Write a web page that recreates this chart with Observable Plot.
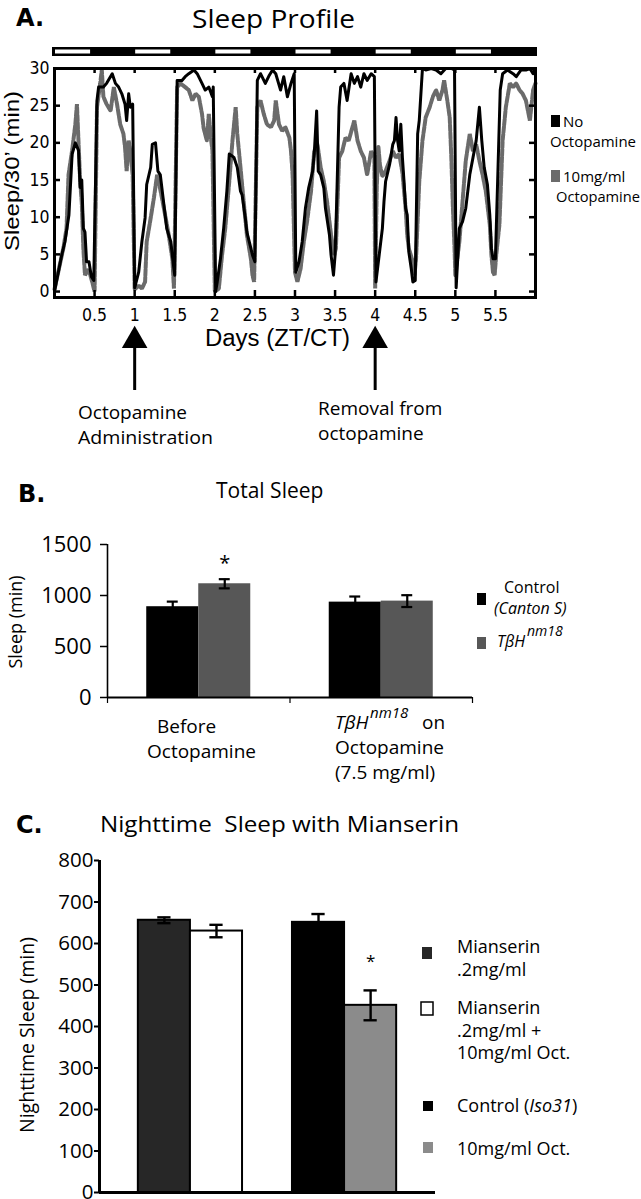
<!DOCTYPE html>
<html>
<head>
<meta charset="utf-8">
<script src="https://cdn.jsdelivr.net/npm/d3@7"></script>
<script src="https://cdn.jsdelivr.net/npm/@observablehq/plot@0.6"></script>
<style>
  html, body { margin: 0; padding: 0; background: #fff; }
  #fig { position: relative; width: 641px; height: 1199px; overflow: hidden; background: #fff; }
  #fig > svg.pl { position: absolute; left: 0; }
</style>
</head>
<body>
<div id="fig"></div>
<script>
// ================= DATA =================
// Panel A: sleep per 30-min bin (min) against time (days, ZT/CT)
const sleepNoOctopamine = [
  [0,0],[0.09,4.9],[0.13,6.7],[0.18,10.3],[0.22,18.5],[0.26,20],[0.30,19],[0.32,14],[0.34,15],[0.36,8.5],[0.38,8],[0.40,4],[0.43,4],[0.46,2],[0.49,1.5],
  [0.53,25.7],[0.55,27.5],[0.61,27.5],[0.65,28],[0.72,29.3],[0.76,28],[0.80,27.5],[0.84,26.6],[0.88,25.2],[0.90,23],[0.925,26.6],[0.946,24.8],[0.975,25.2],
  [1.0,0.5],[1.05,2.6],[1.09,6.7],[1.13,9.9],[1.15,14.4],[1.20,16.7],[1.22,19.8],[1.26,20],[1.29,16.2],[1.32,15.7],[1.36,12.1],[1.40,8.5],[1.45,6.7],[1.49,3],[1.50,2.2],
  [1.53,28.4],[1.59,28.4],[1.63,28.9],[1.675,29.3],[1.74,29.8],[1.78,29.3],[1.84,28],[1.88,27.1],[1.925,27.5],[1.97,26.2],[1.98,27.5],
  [2.01,0],[2.03,1.3],[2.07,4.4],[2.11,8.5],[2.15,13.5],[2.18,18.5],[2.22,18.2],[2.24,18],[2.28,16.7],[2.32,13.5],[2.34,13],[2.38,9.9],[2.40,8],[2.45,5.8],[2.47,4.9],[2.50,4],
  [2.53,28.4],[2.57,29.3],[2.63,28],[2.68,29.1],[2.72,29.8],[2.76,29.3],[2.82,27.1],[2.86,28.9],[2.905,26.2],[2.95,28],[2.99,29.3],
  [3.01,2.6],[3.05,4],[3.09,6.7],[3.13,11.2],[3.17,13.9],[3.22,16.2],[3.24,18.5],[3.27,24.3],[3.29,16.2],[3.32,15.7],[3.36,13.9],[3.38,11.2],[3.43,7.6],[3.45,4.9],[3.48,2.2],[3.50,4.9],
  [3.52,12.1],[3.55,24.8],[3.57,27.5],[3.61,28],[3.65,25.7],[3.70,29.3],[3.74,28],[3.78,28.9],[3.82,27.5],[3.86,29.3],[3.90,28.4],[3.95,29.3],[3.99,28.9],
  [4.01,1.3],[4.05,4.9],[4.09,8.5],[4.11,12.1],[4.13,14.8],[4.18,17.1],[4.22,19.8],[4.24,20.3],[4.26,23.4],[4.28,20.3],[4.30,18.9],[4.32,22.5],[4.34,18],[4.36,14.8],[4.38,11.2],[4.40,10.3],[4.42,5.3],[4.45,3.1],[4.47,1.3],[4.50,1.5],
  [4.53,21.2],[4.55,23],[4.59,30],[4.63,29.8],[4.70,30],[4.76,29.8],[4.82,29.3],[4.88,30],[4.95,30],[4.99,29.8],
  [5.01,0.5],[5.05,8.5],[5.09,9.4],[5.13,11.2],[5.18,15.7],[5.22,18],[5.26,20.3],[5.30,24.8],[5.33,20.3],[5.36,16.7],[5.40,14.4],[5.43,10.3],[5.45,5.8],[5.47,4.4],[5.50,4.4],
  [5.53,15.7],[5.56,27.1],[5.59,29.3],[5.65,29.8],[5.72,29.3],[5.76,28.9],[5.82,29.8],[5.88,29.8],[5.93,30],[5.97,29.3],[6.0,30]
];
const sleepOctopamine10 = [
  [0,0.3],[0.11,5.8],[0.15,8.5],[0.175,15.7],[0.22,19],[0.26,22.5],[0.28,25.2],[0.30,20],[0.32,14.8],[0.34,12],[0.36,5.8],[0.38,2.2],[0.425,3],[0.47,1.3],[0.50,0],
  [0.53,24.8],[0.57,28],[0.59,29.8],[0.61,26.2],[0.65,25.2],[0.70,24.3],[0.74,27.5],[0.78,25.2],[0.82,22.5],[0.86,21.2],[0.88,19.4],[0.90,16.2],[0.925,20.3],[0.946,18.9],[0.975,15.7],
  [1.0,0.3],[1.05,0.8],[1.09,0.4],[1.13,1.3],[1.15,6.7],[1.20,9.9],[1.24,12.6],[1.28,15.7],[1.30,14.8],[1.34,12.6],[1.38,10.3],[1.425,7.6],[1.47,4.4],[1.49,0.4],
  [1.53,27.5],[1.57,28],[1.63,27.5],[1.675,27.1],[1.72,25.7],[1.76,26.6],[1.80,26.2],[1.84,23.9],[1.86,22],[1.90,20.3],[1.925,23.9],[1.95,20.7],[1.97,19],
  [2.0,0],[2.05,0.4],[2.09,4.9],[2.13,8.5],[2.18,14.8],[2.22,20.3],[2.26,24.8],[2.28,21.2],[2.32,16.7],[2.36,12.1],[2.40,7.6],[2.45,4.4],[2.47,2.2],[2.49,1.3],
  [2.53,24.8],[2.57,25.7],[2.61,23.9],[2.65,22.5],[2.70,22.1],[2.74,23],[2.76,25.7],[2.80,22.5],[2.84,21.6],[2.88,22.1],[2.93,20.7],[2.95,18.9],[2.97,15.7],
  [3.0,2.6],[3.03,1.3],[3.07,3.1],[3.11,6.7],[3.15,9.4],[3.20,13.5],[3.24,18.9],[3.28,19.8],[3.32,16.7],[3.36,14.8],[3.40,12.1],[3.45,7.6],[3.49,4.9],[3.51,5.8],
  [3.55,18],[3.59,18.9],[3.63,20.7],[3.67,20.3],[3.74,23],[3.78,20.3],[3.82,18.9],[3.86,18],[3.90,15.7],[3.95,18.9],[3.99,18],
  [4.0,0.4],[4.02,14],[4.04,19.5],[4.06,17],[4.09,15.5],[4.13,16.2],[4.18,17.6],[4.22,18.9],[4.26,18],[4.30,18.5],[4.34,16],[4.38,11.2],[4.40,7.6],[4.42,5.8],[4.47,4],[4.49,2.2],
  [4.51,4.4],[4.55,14.8],[4.59,20.3],[4.63,23.4],[4.68,24.8],[4.72,26.2],[4.76,27.1],[4.80,25.7],[4.84,27.1],[4.86,28.4],[4.90,25.7],[4.93,23.4],[4.95,18],[4.97,11.2],[4.99,5.8],
  [5.0,2.2],[5.05,6.7],[5.09,12.1],[5.13,17.6],[5.18,21.2],[5.22,18.9],[5.26,19.8],[5.30,17.6],[5.34,15.7],[5.38,13.5],[5.43,9],[5.45,4.9],[5.47,2.6],[5.49,2.2],
  [5.51,4.9],[5.55,9],[5.59,20.3],[5.63,24.8],[5.68,28],[5.72,27.5],[5.76,28],[5.80,27.1],[5.84,26.6],[5.88,25.7],[5.93,23],[5.97,27.1],[6.0,28]
];
const totalDaysA = 6;
const lightOnDays = [0, 1, 2, 3, 4, 5];      // lights-on phase starts (half day long)
const arrowDays = [1, 4];                    // octopamine on / off
const yTicksA = [0, 5, 10, 15, 20, 25, 30];
const xTicksA = [0.5, 1, 1.5, 2, 2.5, 3, 3.5, 4, 4.5, 5, 5.5];

// Panel B: total sleep (min)
const bGroups = ["Before Octopamine", "TβH nm18 on Octopamine (7.5 mg/ml)"];
const bSeries = ["Control (Canton S)", "TβH nm18"];
const bControl = [890, 935];
const bControlErr = [50, 55];
const bMutant = [1115, 945];
const bMutantErr = [45, 58];
const bMutantSignificant = [true, false];
const yTicksB = [0, 500, 1000, 1500];

// Panel C: nighttime sleep (min)
const cSeries = ["Mianserin .2mg/ml", "Mianserin .2mg/ml + 10mg/ml Oct.", "Control (Iso31)", "10mg/ml Oct."];
const cGroupIndex = [0, 0, 1, 1];
const cSlotIndex = [0, 1, 0, 1];
const cValues = [656, 630, 651, 451];
const cErrors = [7, 15, 20, 36];
const cSignificant = [false, false, false, true];
const yTicksC = [0, 100, 200, 300, 400, 500, 600, 700, 800];

// ================= STYLE =================
const W = 641, H = 1199;
const OPEN = '"Open Sans", "DejaVu Sans", sans-serif';
const NARROW = '"Liberation Sans Narrow", "Arial Narrow", "DejaVu Sans Condensed", "Liberation Sans", sans-serif';
const ARIAL = '"Liberation Sans", Arial, sans-serif';
const HEAVY = '"DejaVu Sans", "Liberation Sans", sans-serif';
const grayA = "#6b6b6b";
const bColors = ["#000000", "#575757"];
const cColors = ["#272727", "#ffffff", "#000000", "#8b8b8b"];

const fig = document.getElementById("fig");
function place(svg, top) { svg.classList.add("pl"); svg.style.top = top + "px"; fig.appendChild(svg); }

// ================= PANEL A =================
const plotA = Plot.plot({
  width: W, height: 400,
  marginTop: 68, marginBottom: 103, marginLeft: 54, marginRight: 106,
  x: {domain: [0, totalDaysA], label: null},
  y: {domain: [-0.8, 30], label: null},
  style: {fontFamily: NARROW, fontSize: "17.5px", background: "transparent", color: "#000"},
  marks: [
    // light/dark bar above the frame
    Plot.rect([totalDaysA], {x1: () => 0, x2: d => d, insetBottom: 220, dy: -21, insetLeft: -2, insetRight: -2, fill: "#000"}),
    Plot.rect(lightOnDays, {x1: d => d, x2: d => d + 0.5, insetTop: 2.5, insetBottom: 222.5, dy: -21, insetLeft: 1, insetRight: 4, fill: "#fff"}),
    Plot.line(sleepOctopamine10, {x: d => d[0], y: d => d[1], stroke: grayA, strokeWidth: 4, strokeDasharray: "6,1.6", strokeLinejoin: "miter"}),
    Plot.line(sleepNoOctopamine, {x: d => d[0], y: d => d[1], stroke: "#000", strokeWidth: 3}),
    // inward ticks
    Plot.tickY(yTicksA, {y: d => d, insetRight: 475, strokeWidth: 2.5}),
    Plot.tickY(yTicksA, {y: d => d, insetLeft: 475, strokeWidth: 2.5}),
    Plot.tickX(xTicksA, {x: d => d, insetTop: 222, strokeWidth: 2.5}),
    Plot.tickX(xTicksA, {x: d => d, insetBottom: 224, strokeWidth: 2.5}),
    Plot.frame({stroke: "#000", strokeWidth: 3}),
    Plot.axisY({ticks: yTicksA, tickSize: 0, tickPadding: 5, tickFormat: d => String(d), label: null}),
    Plot.axisX({ticks: xTicksA, tickSize: 0, tickPadding: 11, tickFormat: d => String(d), label: null}),
    // arrows for octopamine administration / removal
    Plot.ruleX(arrowDays, {x: d => d, insetTop: 186, dy: 93, strokeWidth: 3}),
    Plot.dot(arrowDays, {x: d => d, frameAnchor: "bottom", dy: 43, symbol: "triangle", r: 9.5, fill: "#000", stroke: "none"})
  ]
});
place(plotA, 0);

// ================= PANEL B =================
const bRows = bGroups.flatMap((g, gi) => [
  {group: gi, slot: 0, value: bControl[gi], err: bControlErr[gi], sig: false},
  {group: gi, slot: 1, value: bMutant[gi], err: bMutantErr[gi], sig: bMutantSignificant[gi]}
]);
const bBarW = 0.285, bCap = 0.03;
const bX1 = d => d.group + (d.slot - 1) * bBarW;
const bMid = d => bX1(d) + bBarW / 2;
const bBounds = d3.range(bGroups.length + 1).map(i => i - 0.5);
const plotB = Plot.plot({
  width: W, height: 192,
  marginTop: 26, marginBottom: 13, marginLeft: 107, marginRight: 169,
  x: {domain: [bBounds[0], bBounds[bBounds.length - 1]], label: null},
  y: {domain: [0, yTicksB[yTicksB.length - 1]], label: null},
  style: {fontFamily: OPEN, fontSize: "22px", background: "transparent", color: "#000"},
  marks: [
    ...bSeries.map((s, si) => Plot.rect(bRows.filter(d => d.slot === si),
      {x1: bX1, x2: d => bX1(d) + bBarW, y1: () => 0, y2: d => d.value, fill: bColors[si]})),
    Plot.ruleX(bRows, {x: bMid, y1: d => d.value - d.err, y2: d => d.value + d.err, stroke: "#000", strokeWidth: 2.2}),
    Plot.ruleY(bRows, {y: d => d.value + d.err, x1: d => bMid(d) - bCap, x2: d => bMid(d) + bCap, stroke: "#000", strokeWidth: 2.2}),
    Plot.ruleY(bRows, {y: d => d.value - d.err, x1: d => bMid(d) - bCap, x2: d => bMid(d) + bCap, stroke: "#000", strokeWidth: 2.2}),
    Plot.text(bRows.filter(d => d.sig), {x: bMid, y: d => d.value + d.err, text: () => "*", dy: -16, fontSize: 20, fontFamily: OPEN}),
    Plot.ruleY([0], {y: d => d, strokeWidth: 2}),
    Plot.ruleX([bBounds[0]], {x: d => d, y1: () => 0, y2: () => yTicksB[yTicksB.length - 1], strokeWidth: 1.6}),
    Plot.axisY({ticks: yTicksB, tickSize: 7, tickPadding: 9, tickFormat: d => String(d), strokeWidth: 1.5, label: null}),
    Plot.axisX({ticks: bBounds, tickSize: 6, tickFormat: () => "", strokeWidth: 1.2, label: null})
  ]
});
place(plotB, 518);

// ================= PANEL C =================
const cRows = cSeries.map((s, i) => ({name: s, group: cGroupIndex[i], slot: cSlotIndex[i], value: cValues[i], err: cErrors[i], sig: cSignificant[i], fill: cColors[i]}));
const cBarW = 0.338, cCap = 0.043;
const cX1 = d => d.group + (d.slot - 1) * cBarW;
const cMid = d => cX1(d) + cBarW / 2;
const plotC = Plot.plot({
  width: W, height: 359,
  marginTop: 20, marginBottom: 7, marginLeft: 99, marginRight: 206,
  x: {domain: [-0.59, 1.59], label: null, axis: null},
  y: {domain: [0, yTicksC[yTicksC.length - 1]], label: null},
  style: {fontFamily: OPEN, fontSize: "20.5px", background: "transparent", color: "#000"},
  marks: [
    ...cRows.map(r => Plot.rect([r], {x1: cX1, x2: d => cX1(d) + cBarW, y1: () => 0, y2: d => d.value, fill: r.fill, stroke: "#000", strokeWidth: 2})),
    Plot.ruleX(cRows, {x: cMid, y1: d => d.value - d.err, y2: d => d.value + d.err, stroke: "#000", strokeWidth: 2.4}),
    Plot.ruleY(cRows, {y: d => d.value + d.err, x1: d => cMid(d) - cCap, x2: d => cMid(d) + cCap, stroke: "#000", strokeWidth: 2.4}),
    Plot.ruleY(cRows, {y: d => d.value - d.err, x1: d => cMid(d) - cCap, x2: d => cMid(d) + cCap, stroke: "#000", strokeWidth: 2.4}),
    Plot.text(cRows.filter(d => d.sig), {x: cMid, y: d => d.value + d.err, text: () => "*", dy: -29, fontSize: 17, fontFamily: OPEN}),
    Plot.ruleY([0], {y: d => d, strokeWidth: 3}),
    Plot.ruleX([-0.59], {x: d => d, y1: () => 0, y2: () => yTicksC[yTicksC.length - 1], strokeWidth: 3}),
    Plot.axisY({ticks: yTicksC, tickSize: 5, tickPadding: 1, tickFormat: d => String(d), strokeWidth: 2, label: null})
  ]
});
place(plotC, 840);

// ================= TEXT OVERLAY (titles, labels, legends) =================
const ov = d3.select(fig).append("svg")
  .attr("width", W).attr("height", H)
  .style("position", "absolute").style("left", 0).style("top", 0).style("pointer-events", "none");

function label(x, y, parts, o = {}) {
  const t = ov.append("text").attr("x", x).attr("y", y)
    .attr("font-family", o.family || OPEN).attr("font-size", o.size || 16)
    .attr("font-weight", o.weight || "normal").attr("text-anchor", o.anchor || "start")
    .attr("fill", "#000").style("white-space", "pre");
  if (o.italic) t.attr("font-style", "italic");
  if (o.rotate) t.attr("transform", `rotate(${o.rotate},${x},${y})`);
  if (o.length) t.attr("textLength", o.length).attr("lengthAdjust", "spacingAndGlyphs");
  if (typeof parts === "string") parts = [{t: parts}];
  for (const p of parts) {
    const s = t.append("tspan").text(p.t);
    if (p.italic) s.attr("font-style", "italic");
  }
  return t;
}
function swatch(x, y, w, h, fill, stroke) {
  ov.append("rect").attr("x", x).attr("y", y).attr("width", w).attr("height", h)
    .attr("fill", fill).attr("stroke", stroke || "none").attr("stroke-width", stroke ? 1.5 : 0);
}

// Panel A text
label(16, 26, "A.", {family: HEAVY, weight: "bold", size: 24});
label(192, 28, "Sleep Profile", {size: 26, length: 163});
label(19, 171, "Sleep/30’ (min)", {family: ARIAL, size: 20, anchor: "middle", rotate: -90, length: 160});
label(205, 346, "Days (ZT/CT)", {family: ARIAL, size: 23, length: 145});
label(78, 419, "Octopamine", {size: 19});
label(78, 444, "Administration", {size: 19, length: 135});
label(318, 415, "Removal from", {size: 19});
label(318, 440, "octopamine", {size: 19});
swatch(551, 115, 9, 12, "#000");
label(563, 127, "No", {size: 15});
label(550, 147, "Octopamine", {size: 15, length: 86});
swatch(551, 170, 9, 12, grayA);
label(563, 182, "10mg/ml", {size: 15});
label(556, 202, "Octopamine", {size: 15, length: 84});

// Panel B text
label(18, 502, "B.", {family: HEAVY, weight: "bold", size: 24});
label(216, 498, "Total Sleep", {size: 21});
label(21.5, 622, "Sleep (min)", {size: 18, anchor: "middle", rotate: -90});
swatch(477, 593, 9, 12, bColors[0]);
label(504, 593, "Control", {size: 16});
label(494, 614, "(Canton S)", {size: 16, italic: true});
swatch(477, 637, 9, 12, bColors[1]);
label(497, 647, "TβH", {size: 16, italic: true});
label(527, 636, "nm18", {size: 14, italic: true});
label(157, 733, "Before", {size: 19});
label(147, 758, "Octopamine", {size: 19});
label(335, 729, "TβH", {size: 19, italic: true});
label(370, 718, "nm18", {size: 15, italic: true});
label(422, 729, "on", {size: 19});
label(335, 754, "Octopamine", {size: 19});
label(335, 779, "(7.5 mg/ml)", {size: 19});

// Panel C text
label(16, 833, "C.", {family: HEAVY, weight: "bold", size: 24});
label(100, 832, "Nighttime  Sleep with Mianserin", {size: 22, length: 359});
label(34, 1035, "Nighttime Sleep (min)", {size: 19.5, anchor: "middle", rotate: -90});
swatch(422, 947, 10, 12, cColors[0]);
label(457, 953, "Mianserin", {size: 18});
label(457, 976, ".2mg/ml", {size: 18});
swatch(421, 1002, 12, 13, cColors[1], "#000");
label(457, 1014, "Mianserin", {size: 18});
label(457, 1037, ".2mg/ml +", {size: 18});
label(457, 1059, "10mg/ml Oct.", {size: 18});
swatch(423, 1101, 10, 10, cColors[2]);
label(457, 1112, [{t: "Control ("}, {t: "Iso31", italic: true}, {t: ")"}], {size: 18});
swatch(423, 1142, 10, 11, cColors[3]);
label(457, 1155, "10mg/ml Oct.", {size: 18});
</script>
</body>
</html>
